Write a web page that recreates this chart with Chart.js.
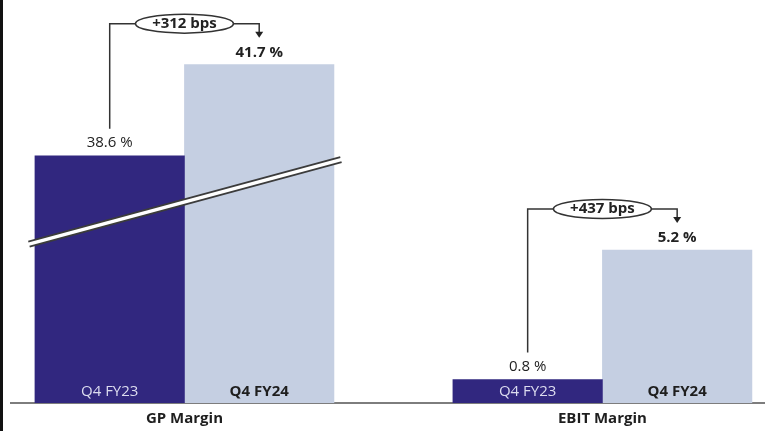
<!DOCTYPE html>
<html>
<head>
<meta charset="utf-8">
<script src="https://cdn.jsdelivr.net/npm/chart.js@4.4.1/dist/chart.umd.min.js"></script>
<style>
  html, body { margin: 0; padding: 0; background: #fff; overflow: hidden; }
  #wrap { width: 762px; height: 435px; border-left: 3px solid #111; }
</style>
</head>
<body>
<div id="wrap"><canvas id="myChart" width="762" height="435"></canvas></div>
<script>
// datos del grafico
const categories = ['GP Margin', 'EBIT Margin'];
const periods = ['Q4 FY23', 'Q4 FY24'];
const fy23 = [38.6, 0.8];
const fy24 = [41.7, 5.2];
const changes = ['+312 bps', '+437 bps'];

const darkBlue = '#31277f';
const lightBlue = '#c5cfe2';
const fontFam = "'Open Sans', 'DejaVu Sans', sans-serif";

// GP Margin usa un eje cortado (y2), EBIT Margin el eje normal (y)
const axisFor = ['y2', 'y'];
const axisMin = { y: 0, y2: 30.2 };

const datasets = [];
categories.forEach((cat, c) => {
  [fy23, fy24].forEach((serie, p) => {
    datasets.push({
      label: periods[p],
      yAxisID: axisFor[c],
      base: axisMin[axisFor[c]],
      backgroundColor: p === 0 ? darkBlue : lightBlue,
      data: categories.map((_, j) => ({ x: j, y: j === c ? serie[c] : null })),
      barThickness: 149.5,
      skipNull: true
    });
  });
});

// dibuja etiquetas, flechas y el corte del eje
const annotations = {
  id: 'annotations',
  afterDatasetsDraw(chart) {
    const ctx = chart.ctx;
    ctx.save();
    categories.forEach((cat, c) => {
      const a = chart.getDatasetMeta(2 * c).data[c].getProps(['x', 'y', 'base', 'width'], true);
      const b = chart.getDatasetMeta(2 * c + 1).data[c].getProps(['x', 'y', 'base', 'width'], true);

      // corte del eje en GP Margin
      if (axisFor[c] === 'y2') {
        const y2 = chart.scales.y2;
        const x0 = a.x - a.width / 2 - 6, x1 = b.x + b.width / 2 + 7;
        const yA = y2.getPixelForValue(35.6), yB = y2.getPixelForValue(38.47);
        ctx.lineCap = 'butt';
        ctx.strokeStyle = '#3c3c3c';
        ctx.lineWidth = 7;
        ctx.beginPath(); ctx.moveTo(x0, yA); ctx.lineTo(x1, yB); ctx.stroke();
        ctx.strokeStyle = '#ffffff';
        ctx.lineWidth = 3.5;
        ctx.beginPath(); ctx.moveTo(x0 - 1, yA + 0.3); ctx.lineTo(x1 + 1, yB - 0.3); ctx.stroke();
      }

      ctx.textAlign = 'center';
      ctx.textBaseline = 'middle';
      // nombres de periodo dentro de las barras
      ctx.font = '15px ' + fontFam;
      ctx.fillStyle = '#dcdcef';
      ctx.fillText(periods[0], a.x, a.base - 11);
      ctx.font = 'bold 15px ' + fontFam;
      ctx.fillStyle = '#1e1e1e';
      ctx.fillText(periods[1], b.x, b.base - 11);

      // valores encima
      ctx.fillStyle = '#222';
      ctx.font = '15px ' + fontFam;
      ctx.fillText(fy23[c].toFixed(1) + ' %', a.x, a.y - 13);
      ctx.font = 'bold 15px ' + fontFam;
      ctx.fillText(fy24[c].toFixed(1) + ' %', b.x, b.y - 12);

      // corchete con elipse
      const yTop = b.y - 41;
      const cx = (a.x + b.x) / 2, rx = 49, ry = 9.5;
      ctx.strokeStyle = '#333';
      ctx.lineWidth = 1.5;
      ctx.beginPath();
      ctx.moveTo(a.x, a.y - 27);
      ctx.lineTo(a.x, yTop);
      ctx.lineTo(cx - rx, yTop);
      ctx.moveTo(cx + rx, yTop);
      ctx.lineTo(b.x, yTop);
      ctx.lineTo(b.x, b.y - 32);
      ctx.stroke();
      ctx.fillStyle = '#222';
      ctx.beginPath();
      ctx.moveTo(b.x - 4, b.y - 33);
      ctx.lineTo(b.x + 4, b.y - 33);
      ctx.lineTo(b.x, b.y - 27);
      ctx.closePath();
      ctx.fill();

      ctx.fillStyle = '#fff';
      ctx.beginPath();
      ctx.ellipse(cx, yTop, rx, ry, 0, 0, Math.PI * 2);
      ctx.fill();
      ctx.stroke();
      ctx.fillStyle = '#222';
      ctx.font = 'bold 15px ' + fontFam;
      ctx.fillText(changes[c], cx, yTop);
    });
    ctx.restore();
  }
};

let ctx = document.getElementById('myChart').getContext('2d');
let chart = new Chart(ctx, {
  type: 'bar',
  data: { datasets: datasets },
  plugins: [annotations],
  options: {
    responsive: false,
    animation: false,
    layout: { padding: { top: 20.5, left: 8, right: 0, bottom: 0 } },
    plugins: { legend: { display: false }, tooltip: { enabled: false } },
    scales: {
      x: {
        type: 'linear',
        offset: false,
        min: -0.415,
        max: 1.389,
        grid: { display: false, drawTicks: false, offset: false },
        border: { display: true, color: '#7d7d7d', width: 2 },
        ticks: {
          stepSize: 1,
          includeBounds: false,
          autoSkip: false,
          padding: 7,
          maxRotation: 0,
          color: '#1e1e1e',
          font: { family: fontFam, size: 15, weight: 'bold' },
          callback: (v) => categories[v] !== undefined ? categories[v] : ''
        }
      },
      y: { display: false, min: axisMin.y, max: 13 },
      y2: { display: false, min: axisMin.y2, max: 43.2 }
    }
  }
});
</script>
</body>
</html>
